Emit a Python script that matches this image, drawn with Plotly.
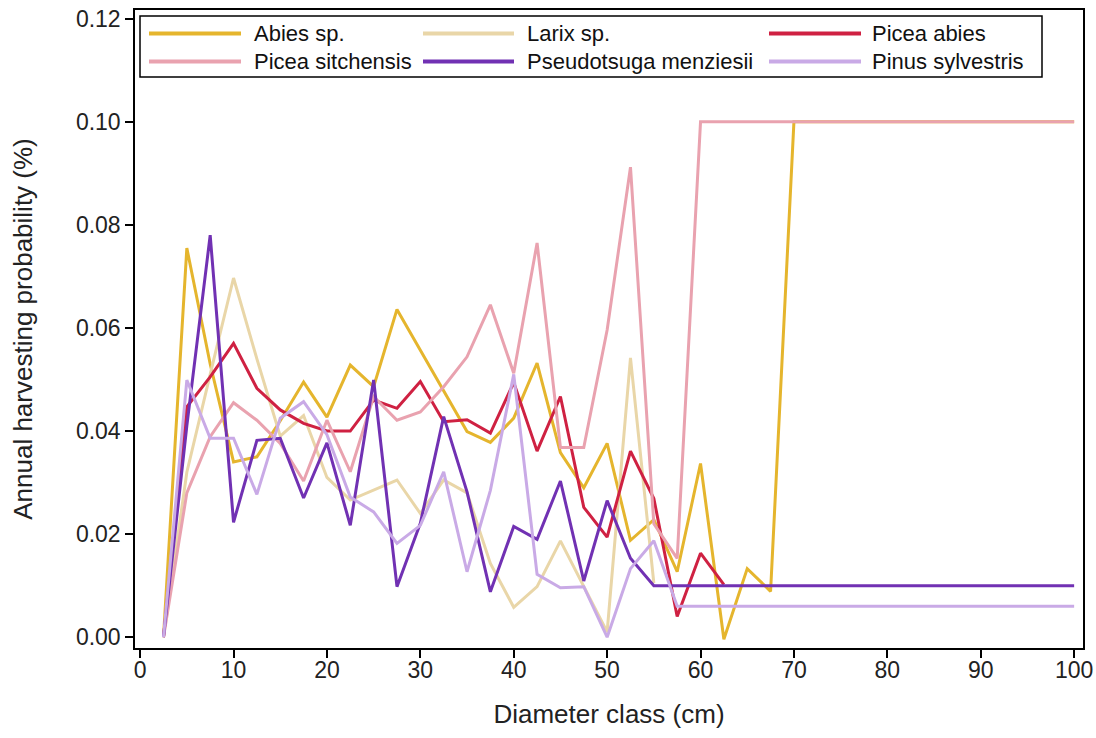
import plotly.graph_objects as go

diameter = [2.5, 5, 7.5, 10, 12.5, 15, 17.5, 20, 22.5, 25, 27.5, 30, 32.5, 35, 37.5, 40,
            42.5, 45, 47.5, 50, 52.5, 55, 57.5, 60, 62.5, 65, 67.5, 70, 72.5, 75, 77.5, 80,
            82.5, 85, 87.5, 90, 92.5, 95, 97.5, 100]

abies = [0.0, 0.0755, 0.053, 0.034, 0.035, 0.042, 0.0495, 0.0427, 0.0528, 0.0486, 0.0636,
         0.0557, 0.0477, 0.0399, 0.0378, 0.0425, 0.0532, 0.0358, 0.029, 0.0376, 0.0188,
         0.0228, 0.0127, 0.0337, -0.0004, 0.0133, 0.0089, 0.10, 0.10, 0.10, 0.10, 0.10,
         0.10, 0.10, 0.10, 0.10, 0.10, 0.10, 0.10, 0.10]

larix = [0.0, 0.032, 0.051, 0.0697, 0.054, 0.039, 0.043, 0.031, 0.0266, 0.0285, 0.0305,
         0.024, 0.0305, 0.028, 0.0143, 0.0058, 0.0098, 0.0187, 0.0098, 0.001, 0.0542, 0.0105]

picea_abies = [0.0, 0.0447, 0.0505, 0.057, 0.0483, 0.0441, 0.0415, 0.040, 0.040, 0.046,
               0.0444, 0.0496, 0.0418, 0.0422, 0.0396, 0.0494, 0.0361, 0.0467, 0.0252,
               0.0194, 0.0361, 0.0269, 0.004, 0.0163, 0.0102]

picea_sitchensis = [0.0, 0.028, 0.0389, 0.0455, 0.0421, 0.0376, 0.0303, 0.0421, 0.0321,
                    0.0467, 0.0421, 0.0437, 0.0486, 0.0544, 0.0645, 0.0512, 0.0765, 0.0368,
                    0.0368, 0.0596, 0.0912, 0.022, 0.0153, 0.10, 0.10, 0.10, 0.10, 0.10,
                    0.10, 0.10, 0.10, 0.10, 0.10, 0.10, 0.10, 0.10, 0.10, 0.10, 0.10, 0.10]

pseudotsuga = [0.0, 0.041, 0.078, 0.0223, 0.0382, 0.0386, 0.027, 0.0377, 0.0217, 0.0499,
               0.0098, 0.0221, 0.0428, 0.0282, 0.0088, 0.0215, 0.019, 0.0303, 0.0109,
               0.0265, 0.0153, 0.010, 0.010, 0.010, 0.010, 0.010, 0.010, 0.010, 0.010,
               0.010, 0.010, 0.010, 0.010, 0.010, 0.010, 0.010, 0.010, 0.010, 0.010, 0.010]

pinus = [0.0, 0.0499, 0.0386, 0.0386, 0.0277, 0.0425, 0.0457, 0.0393, 0.0272, 0.0243,
         0.0182, 0.0217, 0.0321, 0.0127, 0.0285, 0.051, 0.0122, 0.0096, 0.0098, 0.0,
         0.0133, 0.0187, 0.006, 0.006, 0.006, 0.006, 0.006, 0.006, 0.006, 0.006, 0.006,
         0.006, 0.006, 0.006, 0.006, 0.006, 0.006, 0.006, 0.006, 0.006]

species = ["Abies sp.", "Larix sp.", "Picea abies",
           "Picea sitchensis", "Pseudotsuga menziesii", "Pinus sylvestris"]
values = [abies, larix, picea_abies, picea_sitchensis, pseudotsuga, pinus]
colors = ["#E5B52D", "#E9D6A8", "#CF2142", "#E9A2AF", "#7131B3", "#C9AAE6"]

W, H = 1096, 738
ML, MR, MT, MB = 135, 13, 10, 90
PW, PH = W - ML - MR, H - MT - MB


def px_x(px):
    return (px - ML) / PW


def px_y(py):
    return (H - MB - py) / PH


font = "Liberation Sans, Arial, sans-serif"
fig = go.Figure()
for name, vals, col in zip(species, values, colors):
    fig.add_trace(go.Scatter(x=diameter[:len(vals)], y=vals, mode="lines", name=name,
                             line=dict(color=col, width=3), showlegend=False))

# legend drawn as a boxed 3x2 grid (layout positions in pixels)
shapes = [dict(type="rect", xref="paper", yref="paper",
               x0=px_x(140), x1=px_x(1042), y0=px_y(77), y1=px_y(16),
               line=dict(color="black", width=1.5), fillcolor="white", layer="above")]
annotations = []
col_line = [(149, 241), (423, 514), (769, 861)]
col_text = [252, 525, 870]
row_y = [33.5, 61.5]
for i, (name, col) in enumerate(zip(species, colors)):
    r, c = divmod(i, 3)
    shapes.append(dict(type="line", xref="paper", yref="paper",
                       x0=px_x(col_line[c][0]), x1=px_x(col_line[c][1]),
                       y0=px_y(row_y[r]), y1=px_y(row_y[r]),
                       line=dict(color=col, width=4), layer="above"))
    annotations.append(dict(text=name, xref="paper", yref="paper",
                            x=px_x(col_text[c]), y=px_y(row_y[r]),
                            xanchor="left", yanchor="middle", showarrow=False,
                            font=dict(size=22, color="#111", family=font)))

fig.update_layout(
    width=W, height=H,
    margin=dict(l=ML, r=MR, t=MT, b=MB),
    paper_bgcolor="white", plot_bgcolor="white",
    font=dict(family=font, size=22, color="#222"),
    showlegend=False,
    shapes=shapes, annotations=annotations,
    xaxis=dict(range=[-0.55, 100.95], tickvals=list(range(0, 101, 10)),
               automargin=False,
               showgrid=False, zeroline=False, showline=True, linecolor="black",
               linewidth=1.5, mirror=True, ticks="outside", ticklen=8, tickwidth=1.5,
               tickcolor="black", tickfont=dict(size=23, color="#222"),
               ticklabelstandoff=-7,
               title=dict(text="Diameter class (cm)", font=dict(size=26, color="#222"),
                          standoff=22)),
    yaxis=dict(range=[-0.0021, 0.1217], tickvals=[0, 0.02, 0.04, 0.06, 0.08, 0.10, 0.12],
               tickformat=".2f", automargin=False,
               showgrid=False, zeroline=False, showline=True, linecolor="black",
               linewidth=1.5, mirror=True, ticks="outside", ticklen=8, tickwidth=1.5,
               tickcolor="black", tickfont=dict(size=23, color="#222"),
               title=dict(text="Annual harvesting probability (%)",
                          font=dict(size=26, color="#222"), standoff=36)),
)

fig.write_html("out.html")
